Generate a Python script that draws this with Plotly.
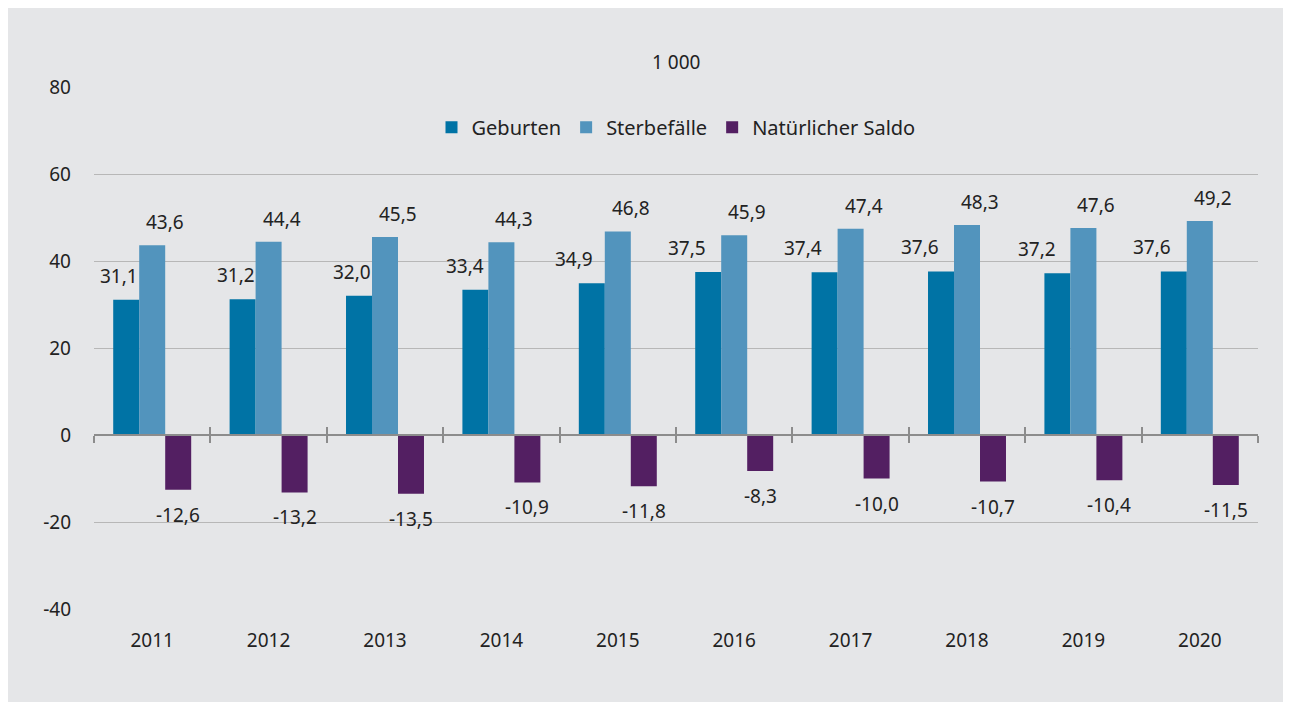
import plotly.graph_objects as go

years = ["2011", "2012", "2013", "2014", "2015", "2016", "2017", "2018", "2019", "2020"]
geburten = [31.1, 31.2, 32.0, 33.4, 34.9, 37.5, 37.4, 37.6, 37.2, 37.6]
sterbefaelle = [43.6, 44.4, 45.5, 44.3, 46.8, 45.9, 47.4, 48.3, 47.6, 49.2]
saldo = [-12.6, -13.2, -13.5, -10.9, -11.8, -8.3, -10.0, -10.7, -10.4, -11.5]
y_ticks = [-40, -20, 0, 20, 40, 60, 80]
unit_label = "1 000"

# label placement (pixels relative to the category centre)
geb_dx = [-33, -33, -33, -36, -44, -47, -48, -47, -46, -48]
ster_dx = 13
saldo_dx = 26

col_geb = "#0073a5"
col_ster = "#5294bd"
col_saldo = "#531f62"
bg = "#e5e6e8"
txt = "#222222"
font = "Noto Sans"


def de(v):
    return f"{v:.1f}".replace(".", ",")


fig = go.Figure()
for name, vals, col in [
    ("Geburten", geburten, col_geb),
    ("Sterbefälle", sterbefaelle, col_ster),
    ("Natürlicher Saldo", saldo, col_saldo),
]:
    fig.add_trace(
        go.Bar(x=years, y=vals, name=name, marker=dict(color=col, line=dict(width=0)))
    )

# helper traces so the zero-line axes know the categories
for ax in ["x2", "x3"]:
    fig.add_trace(
        go.Scatter(
            x=years, y=geburten, xaxis=ax, mode="markers",
            marker=dict(opacity=0), showlegend=False, hoverinfo="skip",
        )
    )

# value labels (x given as category index)
annotations = []
for i in range(len(years)):
    annotations.append(dict(x=i, y=geburten[i], text=de(geburten[i]), xshift=geb_dx[i],
                            yshift=24, showarrow=False))
    annotations.append(dict(x=i, y=sterbefaelle[i], text=de(sterbefaelle[i]), xshift=ster_dx,
                            yshift=23, showarrow=False))
    annotations.append(dict(x=i, y=saldo[i], text=de(saldo[i]), xshift=saldo_dx,
                            yshift=-25, showarrow=False))
annotations.append(dict(x=0.5, y=1.0766, xref="paper", yref="paper", text=unit_label,
                        showarrow=False))
for a in annotations:
    a["font"] = dict(family=font, size=19, color=txt)

zero_axis = dict(
    overlaying="x", matches="x", anchor="free", position=1 / 3, type="category",
    showline=True, linecolor="#8c8c8c", linewidth=2, tickson="boundaries",
    ticklen=7, tickwidth=1.5, tickcolor="#8c8c8c", showticklabels=False, showgrid=False,
)

fig.update_layout(
    width=1283,
    height=694,
    margin=dict(l=86, r=33, t=79, b=93),
    paper_bgcolor=bg,
    plot_bgcolor=bg,
    barmode="group",
    bargap=0.33,
    bargroupgap=0,
    font=dict(family=font, size=19, color=txt),
    showlegend=True,
    legend=dict(orientation="h", x=0.5, xanchor="center", y=0.923, yanchor="middle",
                bgcolor="rgba(0,0,0,0)", font=dict(size=20), itemclick=False),
    xaxis=dict(type="category", categoryarray=years, showgrid=False, showline=False,
               ticks="", ticklabelstandoff=18, range=[-0.5, 9.5]),
    xaxis2=dict(zero_axis, ticks="outside"),
    xaxis3=dict(zero_axis, ticks="inside"),
    yaxis=dict(range=[-40, 80], tickvals=y_ticks, ticktext=[str(v) for v in y_ticks],
               showgrid=True, gridcolor="#b7b7b7", gridwidth=1, zeroline=False,
               ticks="", ticklabelstandoff=22),
    annotations=annotations,
)

fig.write_html("out.html")
